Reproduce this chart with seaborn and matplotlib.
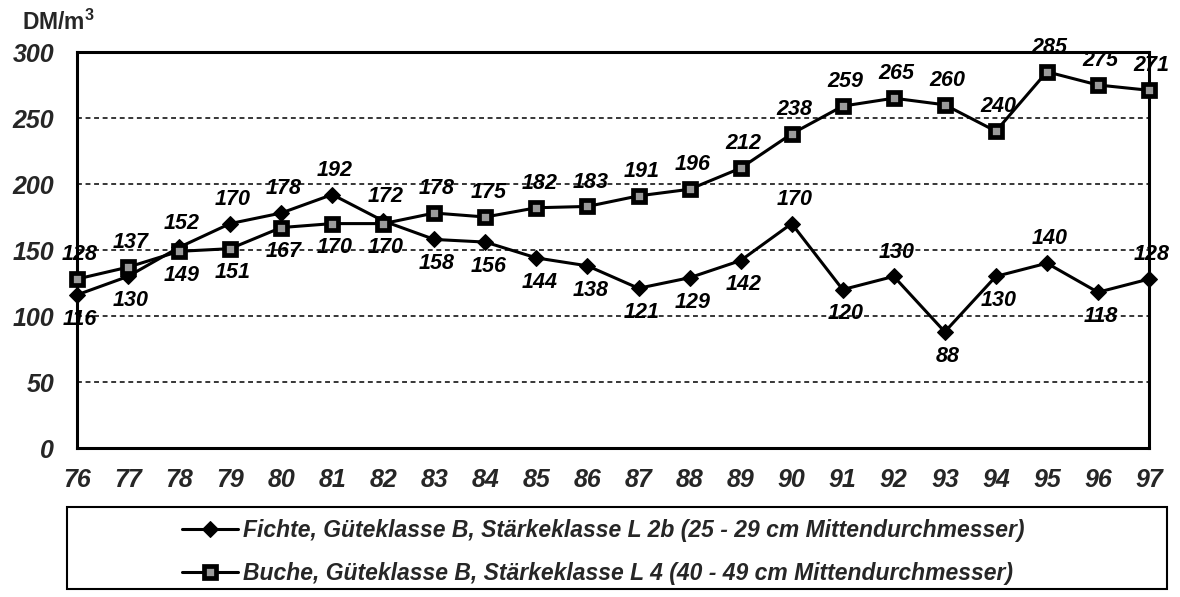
import numpy as np
import pandas as pd
import matplotlib
matplotlib.use("Agg")
import matplotlib.pyplot as plt
from matplotlib.patches import Rectangle
import seaborn as sns

# data
years = list(range(76, 98))
fichte = [116, 130, 152, 170, 178, 192, 172, 158, 156, 144, 138,
          121, 129, 142, 170, 120, 130, 88, 130, 140, 118, 128]
buche = [128, 137, 149, 151, 167, 170, 170, 178, 175, 182, 183,
         191, 196, 212, 238, 259, 265, 260, 240, 285, 275, 271]
# label side per point: 1 = above, -1 = below
fichte_side = [-1, -1, 1, 1, 1, 1, 1, -1, -1, -1, -1,
               -1, -1, -1, 1, -1, 1, -1, -1, 1, -1, 1]
buche_side = [1, 1, -1, -1, -1, -1, -1, 1, 1, 1, 1,
              1, 1, 1, 1, 1, 1, 1, 1, 1, 1, 1]
y_ticks = [0, 50, 100, 150, 200, 250, 300]
label_fichte = "Fichte, Güteklasse B, Stärkeklasse L 2b (25 - 29 cm Mittendurchmesser)"
label_buche = "Buche, Güteklasse B, Stärkeklasse L 4 (40 - 49 cm Mittendurchmesser)"

sns.set_theme(style="white")
plt.rcParams["font.family"] = ["Liberation Sans", "DejaVu Sans"]
plt.rcParams["mathtext.fontset"] = "custom"
plt.rcParams["mathtext.bf"] = "Liberation Sans:bold"
plt.rcParams["mathtext.rm"] = "Liberation Sans"

df = pd.DataFrame({"Jahr": years, "Fichte": fichte, "Buche": buche})

W, H = 1180, 597
fig = plt.figure(figsize=(W / 100, H / 100), dpi=100)
ax = fig.add_axes([77 / W, 1 - 448 / H, (1149 - 77) / W, (448 - 52) / H])

sns.lineplot(data=df, x="Jahr", y="Fichte", ax=ax, color="black", lw=2.2,
             marker="D", markersize=8.6, markerfacecolor="black",
             markeredgecolor="black", label=label_fichte, clip_on=False, zorder=4)
sns.lineplot(data=df, x="Jahr", y="Buche", ax=ax, color="black", lw=2.2,
             marker="s", markersize=8.8, markerfacecolor="#9a9a9a",
             markeredgecolor="black", markeredgewidth=3.4, label=label_buche,
             clip_on=False, zorder=5)

lab_font = dict(fontsize=15.5, fontstyle="italic", fontweight="bold",
                ha="center", va="center", color="black")
for x, v, s in zip(years, fichte, fichte_side):
    ax.annotate(str(v), (x, v), xytext=(2, 17.5 * s), textcoords="offset points", **lab_font)
for x, v, s in zip(years, buche, buche_side):
    ax.annotate(str(v), (x, v), xytext=(2, 17.5 * s), textcoords="offset points", **lab_font)

ax.set_xlim(76, 97)
ax.set_ylim(0, 300)
ax.set_xticks(years)
ax.set_xticklabels([str(y) for y in years])
ax.set_yticks(y_ticks)
for y in y_ticks[1:-1]:
    ax.axhline(y, color="black", lw=1.1, ls=(0, (3.2, 2.4)), zorder=0)
for sp in ax.spines.values():
    sp.set_color("black")
    sp.set_linewidth(2.2)
ax.tick_params(axis="both", direction="inout", length=11, width=1.5, color="black",
               labelsize=18)
ax.tick_params(axis="x", pad=9)
ax.tick_params(axis="y", pad=11)
for t in ax.get_xticklabels() + ax.get_yticklabels():
    t.set_fontstyle("italic")
    t.set_fontweight("bold")
ax.set_xlabel("")
ax.set_ylabel("")
ax.get_legend().remove()

fig.text(22 / W, 1 - 22 / H, r"DM/m$^\mathbf{3}$", fontsize=16.5, fontweight="bold",
         ha="left", va="center")

fig.patches.append(Rectangle((67 / W, 1 - 589 / H), (1167 - 67) / W,
                             (589 - 507) / H, transform=fig.transFigure,
                             fill=False, lw=1.5, edgecolor="black"))
handles, labels = ax.get_legend_handles_labels()
fig.legend(handles, labels, loc="center left",
           bbox_to_anchor=(182 / W, 1 - 552 / H), frameon=False,
           prop={"size": 16.5, "style": "italic", "weight": "bold"},
           handlelength=2.45, handletextpad=0.22, labelspacing=0.85,
           borderpad=0, borderaxespad=0)

fig.savefig("out.png", dpi=100, facecolor="white")
